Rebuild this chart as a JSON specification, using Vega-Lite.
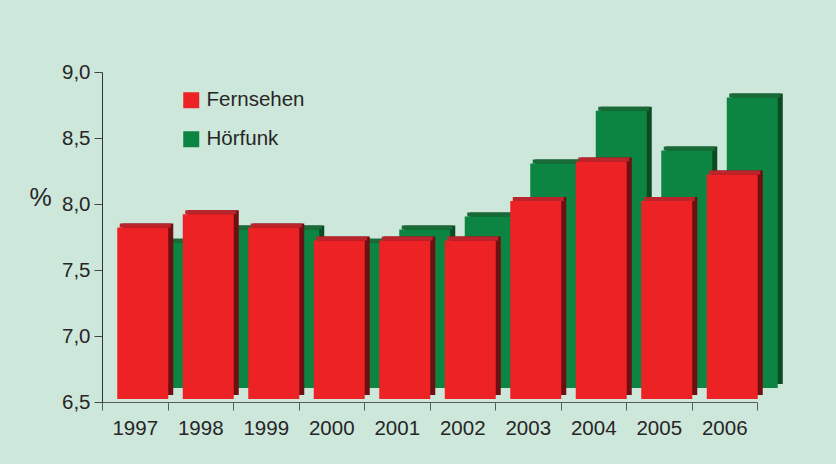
{
  "$schema": "https://vega.github.io/schema/vega-lite/v6.json",
  "width": 655,
  "height": 330,
  "autosize": {"type": "none"},
  "padding": {"left": 102, "top": 72, "right": 79, "bottom": 62},
  "background": "#cde7da",
  "config": {
    "view": {"stroke": null},
    "font": "Liberation Sans",
    "axis": {"grid": false, "labelFont": "Liberation Sans", "titleFont": "Liberation Sans"}
  },
  "data": {
    "values": [
      {"year": "1997", "medium": "Fernsehen", "value": 7.8},
      {"year": "1998", "medium": "Fernsehen", "value": 7.9},
      {"year": "1999", "medium": "Fernsehen", "value": 7.8},
      {"year": "2000", "medium": "Fernsehen", "value": 7.7},
      {"year": "2001", "medium": "Fernsehen", "value": 7.7},
      {"year": "2002", "medium": "Fernsehen", "value": 7.7},
      {"year": "2003", "medium": "Fernsehen", "value": 8.0},
      {"year": "2004", "medium": "Fernsehen", "value": 8.3},
      {"year": "2005", "medium": "Fernsehen", "value": 8.0},
      {"year": "2006", "medium": "Fernsehen", "value": 8.2},
      {"year": "1997", "medium": "Hörfunk", "value": 7.6},
      {"year": "1998", "medium": "Hörfunk", "value": 7.7},
      {"year": "1999", "medium": "Hörfunk", "value": 7.7},
      {"year": "2000", "medium": "Hörfunk", "value": 7.6},
      {"year": "2001", "medium": "Hörfunk", "value": 7.7},
      {"year": "2002", "medium": "Hörfunk", "value": 7.8},
      {"year": "2003", "medium": "Hörfunk", "value": 8.2},
      {"year": "2004", "medium": "Hörfunk", "value": 8.6},
      {"year": "2005", "medium": "Hörfunk", "value": 8.3},
      {"year": "2006", "medium": "Hörfunk", "value": 8.7}
    ]
  },
  "encoding": {
    "x": {
      "field": "year",
      "type": "ordinal",
      "scale": {"paddingInner": 0, "paddingOuter": 0},
      "axis": {
        "title": null,
        "labelAngle": 0,
        "tickBand": "extent",
        "tickSize": 8,
        "tickColor": "#5a5a5a",
        "domainColor": "#5a5a5a",
        "labelFontSize": 20.5,
        "labelColor": "#262626",
        "labelPadding": 8
      }
    }
  },
  "layer": [
    {
      "transform": [{"filter": "datum.medium === 'Hörfunk'"}],
      "mark": {"type": "bar", "width": 51, "color": "#0b4a22", "xOffset": 33, "x2Offset": 33, "yOffset": -18, "y2Offset": -18},
      "encoding": {
        "y": {"field": "value", "type": "quantitative", "scale": {"domain": [6.5, 9.0], "zero": false, "nice": false},
          "axis": {
            "values": [6.5, 7.0, 7.5, 8.0, 8.5, 9.0],
            "labelExpr": "replace(format(datum.value, '.1f'), '.', ',')",
            "tickSize": 8,
            "tickColor": "#444444",
            "domainColor": "#333333",
            "labelFontSize": 20.5,
            "labelColor": "#262626",
            "labelPadding": 4,
            "title": "%",
            "titleAngle": 0,
            "titleFontSize": 25,
            "titleFontWeight": "normal",
            "titleColor": "#262626",
            "titleX": -62,
            "titleY": 125,
            "titleAlign": "center",
            "titleBaseline": "middle"
          }
        },
        "y2": {"datum": 6.5}
      }
    },
    {
      "transform": [{"filter": "datum.medium === 'Hörfunk'"}],
      "mark": {"type": "bar", "width": 51, "color": "#1a6a38", "xOffset": 30.5, "x2Offset": 30.5, "yOffset": -18, "y2Offset": -14},
      "encoding": {
        "y": {"field": "value", "type": "quantitative"},
        "y2": {"field": "value"}
      }
    },
    {
      "transform": [{"filter": "datum.medium === 'Hörfunk'"}],
      "mark": {"type": "bar", "width": 51, "xOffset": 28, "x2Offset": 28, "yOffset": -14, "y2Offset": -14},
      "encoding": {
        "y": {"field": "value", "type": "quantitative"},
        "y2": {"datum": 6.5},
        "color": {"field": "medium", "type": "nominal"}
      }
    },
    {
      "transform": [{"filter": "datum.medium === 'Fernsehen'"}],
      "mark": {"type": "bar", "width": 51, "color": "#6e0f12", "xOffset": 13, "x2Offset": 13, "yOffset": -7, "y2Offset": -7},
      "encoding": {
        "y": {"field": "value", "type": "quantitative"},
        "y2": {"datum": 6.5}
      }
    },
    {
      "transform": [{"filter": "datum.medium === 'Fernsehen'"}],
      "mark": {"type": "bar", "width": 51, "color": "#b9252b", "xOffset": 10.5, "x2Offset": 10.5, "yOffset": -7, "y2Offset": -3},
      "encoding": {
        "y": {"field": "value", "type": "quantitative"},
        "y2": {"field": "value"}
      }
    },
    {
      "transform": [{"filter": "datum.medium === 'Fernsehen'"}],
      "mark": {"type": "bar", "width": 51, "xOffset": 8, "x2Offset": 8, "yOffset": -3, "y2Offset": -3},
      "encoding": {
        "y": {"field": "value", "type": "quantitative"},
        "y2": {"datum": 6.5},
        "color": {
          "field": "medium",
          "type": "nominal",
          "scale": {"domain": ["Fernsehen", "Hörfunk"], "range": ["#ed2224", "#0b8541"]},
          "legend": {
            "title": null,
            "orient": "none",
            "legendX": 79,
            "legendY": 18,
            "symbolType": "square",
            "symbolSize": 256,
            "symbolStrokeWidth": 0,
            "symbolOpacity": 1,
            "labelFontSize": 20.5,
            "labelColor": "#262626",
            "labelOffset": 5,
            "rowPadding": 18,
            "padding": 0
          }
        }
      }
    }
  ]
}
